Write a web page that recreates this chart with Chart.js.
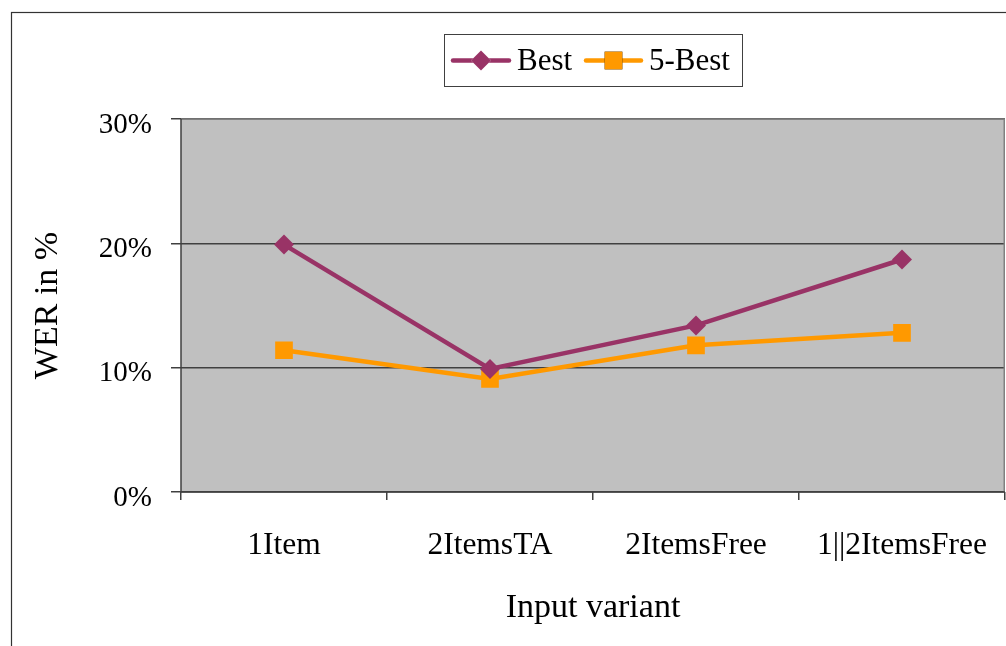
<!DOCTYPE html>
<html>
<head>
<meta charset="utf-8">
<script src="https://cdn.jsdelivr.net/npm/chart.js@4.4.1/dist/chart.umd.min.js"></script>
<style>
  html, body { margin: 0; padding: 0; background: #ffffff; }
  #wrap { width: 1006px; height: 646px; position: relative; }
</style>
</head>
<body>
<div id="wrap"><canvas id="c" width="1006" height="646"></canvas></div>
<script>
// Categories and WER values (fractions) for each decoding setup
const categories = ['1Item', '2ItemsTA', '2ItemsFree', '1||2ItemsFree'];
const bestValues = [0.199, 0.099, 0.134, 0.187];
const fiveBestValues = [0.114, 0.091, 0.118, 0.128];
const seriesNames = ['Best', '5-Best'];
const yTickValues = [0, 0.1, 0.2, 0.3];

const FONT = '"Liberation Serif", "Times New Roman", serif';
const PURPLE = '#993366';
const ORANGE = '#FF9900';

// Outer frame, plot background and the plot-area border
const framePlugin = {
  id: 'frame',
  beforeDraw(chart) {
    const { ctx, chartArea: a } = chart;
    ctx.save();
    ctx.fillStyle = '#ffffff';
    ctx.fillRect(0, 0, chart.width, chart.height);
    ctx.strokeStyle = '#333333';
    ctx.lineWidth = 1.2;
    ctx.strokeRect(11.5, 12.5, chart.width + 20, chart.height + 20);
    ctx.fillStyle = '#C0C0C0';
    ctx.fillRect(a.left, a.top, a.right - a.left, a.bottom - a.top);
    ctx.restore();
  },
  afterDatasetsDraw(chart) {
    const { ctx, chartArea: a } = chart;
    ctx.save();
    ctx.strokeStyle = '#808080';
    ctx.lineWidth = 1.5;
    ctx.beginPath();
    ctx.moveTo(a.left, a.top);
    ctx.lineTo(a.right - 0.75, a.top);
    ctx.lineTo(a.right - 0.75, a.bottom);
    ctx.stroke();
    ctx.strokeStyle = '#404040';
    ctx.beginPath();
    ctx.moveTo(a.left, a.top);
    ctx.lineTo(a.left, a.bottom);
    ctx.lineTo(a.right, a.bottom);
    ctx.stroke();
    ctx.restore();
  }
};

// Boxed legend with a line-and-marker sample for each series
const boxLegendPlugin = {
  id: 'boxLegend',
  afterDraw(chart) {
    const { ctx } = chart;
    const box = { x: 444.5, y: 34.5, w: 298, h: 52 };
    ctx.save();
    ctx.strokeStyle = '#404040';
    ctx.lineWidth = 1;
    ctx.fillStyle = '#ffffff';
    ctx.fillRect(box.x, box.y, box.w, box.h);
    ctx.strokeRect(box.x, box.y, box.w, box.h);
    const cy = box.y + box.h / 2;
    const items = [
      { x0: 453, x1: 509, tx: 517, ds: chart.data.datasets[0] },
      { x0: 586, x1: 641, tx: 649, ds: chart.data.datasets[1] }
    ];
    ctx.font = '31px ' + FONT;
    ctx.textBaseline = 'middle';
    items.forEach(it => {
      ctx.strokeStyle = it.ds.borderColor;
      ctx.lineWidth = 4.5;
      ctx.lineCap = 'round';
      ctx.beginPath();
      ctx.moveTo(it.x0, cy);
      ctx.lineTo(it.x1, cy);
      ctx.stroke();
      Chart.helpers.drawPoint(ctx, {
        pointStyle: it.ds.pointStyle,
        radius: it.ds.pointRadius,
        rotation: 0,
        borderWidth: 0
      }, (it.x0 + it.x1) / 2, cy);
      ctx.fillStyle = it.ds.pointBackgroundColor;
      ctx.fill();
      ctx.fillStyle = '#000000';
      ctx.fillText(it.ds.label, it.tx, cy + 1);
    });
    ctx.restore();
  }
};

new Chart(document.getElementById('c'), {
  type: 'line',
  data: {
    labels: categories,
    datasets: [
      {
        label: seriesNames[0],
        data: bestValues,
        borderColor: PURPLE,
        backgroundColor: PURPLE,
        pointBackgroundColor: PURPLE,
        pointBorderColor: PURPLE,
        borderWidth: 4.5,
        pointStyle: 'rectRot',
        pointRadius: 10,
        pointBorderWidth: 0,
        tension: 0
      },
      {
        label: seriesNames[1],
        data: fiveBestValues,
        borderColor: ORANGE,
        backgroundColor: ORANGE,
        pointBackgroundColor: ORANGE,
        pointBorderColor: ORANGE,
        borderWidth: 4.5,
        pointStyle: 'rect',
        pointRadius: 12.5,
        pointBorderWidth: 0,
        tension: 0
      }
    ]
  },
  options: {
    responsive: false,
    animation: false,
    devicePixelRatio: 1,
    layout: { autoPadding: false, padding: { left: 0, right: 1, top: 119, bottom: 0 } },
    plugins: {
      legend: { display: false },
      tooltip: { enabled: false }
    },
    scales: {
      x: {
        offset: true,
        grid: {
          offset: true,
          drawOnChartArea: false,
          drawTicks: true,
          tickLength: 8,
          color: '#404040',
          lineWidth: 1.5
        },
        border: { display: false },
        ticks: {
          color: '#000000',
          font: { family: FONT, size: 31.5 },
          padding: 27,
          maxRotation: 0,
          autoSkip: false
        },
        title: {
          display: true,
          text: 'Input variant',
          color: '#000000',
          font: { family: FONT, size: 34 },
          padding: { top: 0, bottom: 18 }
        },
        afterFit(scale) {
          scale.height = 154;
          scale.paddingLeft = 0;
          scale.paddingRight = 0;
        }
      },
      y: {
        min: 0,
        max: 0.3,
        afterBuildTicks(scale) {
          scale.ticks = yTickValues.map(v => ({ value: v }));
        },
        grid: {
          color: '#404040',
          lineWidth: 1.5,
          tickLength: 10,
          drawTicks: true
        },
        border: { display: false },
        ticks: {
          color: '#000000',
          font: { family: FONT, size: 29 },
          padding: 19,
          labelOffset: 6,
          callback: v => Math.round(v * 100) + '%'
        },
        title: {
          display: true,
          text: 'WER in %',
          color: '#000000',
          font: { family: FONT, size: 34 },
          padding: { top: 28, bottom: 0 }
        },
        afterFit(scale) { scale.width = 181; }
      }
    }
  },
  plugins: [framePlugin, boxLegendPlugin]
});
</script>
</body>
</html>
